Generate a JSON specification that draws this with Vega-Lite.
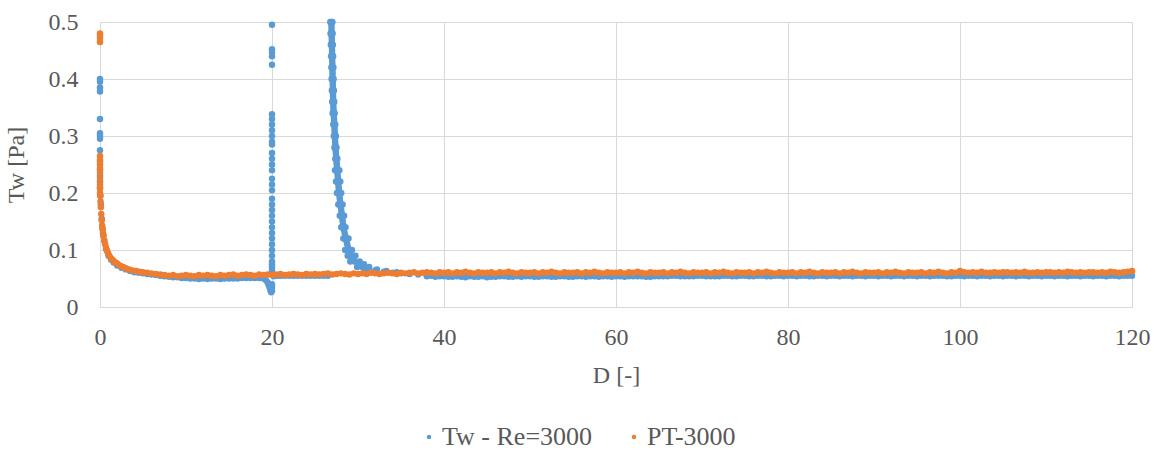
{
"$schema": "https://vega.github.io/schema/vega-lite/v6.json",
"width": 1032,
"height": 285,
"autosize": {"type": "none"},
"padding": {"left": 100, "top": 22, "right": 25, "bottom": 144},
"background": "white",
"config": {"view": {"stroke": null}, "font": "Liberation Serif"},
"data": {"values": [
{"s":"B","x":0,"y":0.40},{"s":"B","x":0,"y":0.395},{"s":"B","x":0,"y":0.385},{"s":"B","x":0,"y":0.378},{"s":"B","x":0,"y":0.33},{"s":"B","x":0,"y":0.305},{"s":"B","x":0,"y":0.30},{"s":"B","x":0,"y":0.295},{"s":"B","x":0,"y":0.275},{"s":"B","x":0,"y":0.255},{"s":"B","x":0,"y":0.24},{"s":"B","x":0,"y":0.23},{"s":"B","x":0,"y":0.22},{"s":"B","x":0,"y":0.21},
{"s":"B","x":0.05,"y":0.195},{"s":"B","x":0.1,"y":0.18},{"s":"B","x":0.2,"y":0.155},{"s":"B","x":0.3,"y":0.138},{"s":"B","x":0.4,"y":0.126},{"s":"B","x":0.5,"y":0.116},{"s":"B","x":0.7,"y":0.102},{"s":"B","x":1,"y":0.09},{"s":"B","x":1.3,"y":0.083},{"s":"B","x":1.6,"y":0.078},{"s":"B","x":2,"y":0.073},{"s":"B","x":2.5,"y":0.069},{"s":"B","x":3,"y":0.066},{"s":"B","x":3.5,"y":0.063},{"s":"B","x":4,"y":0.061},{"s":"B","x":4.5,"y":0.06},{"s":"B","x":5,"y":0.059},{"s":"B","x":5.5,"y":0.058},{"s":"B","x":6,"y":0.057},{"s":"B","x":6.5,"y":0.056},{"s":"B","x":7,"y":0.055},{"s":"B","x":7.5,"y":0.054},{"s":"B","x":8,"y":0.053},{"s":"B","x":8.5,"y":0.052},{"s":"B","x":9,"y":0.052},{"s":"B","x":9.5,"y":0.051},{"s":"B","x":10,"y":0.051},{"s":"B","x":10.5,"y":0.05},{"s":"B","x":11,"y":0.05},{"s":"B","x":11.5,"y":0.049},{"s":"B","x":12,"y":0.05},{"s":"B","x":12.5,"y":0.049},{"s":"B","x":13,"y":0.05},{"s":"B","x":13.5,"y":0.05},{"s":"B","x":14,"y":0.049},{"s":"B","x":14.5,"y":0.05},{"s":"B","x":15,"y":0.05},{"s":"B","x":15.5,"y":0.05},{"s":"B","x":16,"y":0.05},{"s":"B","x":16.5,"y":0.051},{"s":"B","x":17,"y":0.051},{"s":"B","x":17.5,"y":0.051},{"s":"B","x":18,"y":0.051},{"s":"B","x":18.5,"y":0.051},{"s":"B","x":19,"y":0.05},{"s":"B","x":19.3,"y":0.047},{"s":"B","x":19.5,"y":0.043},{"s":"B","x":19.6,"y":0.039},{"s":"B","x":19.7,"y":0.035},{"s":"B","x":19.8,"y":0.03},{"s":"B","x":19.9,"y":0.026},{"s":"B","x":20,"y":0.028},
{"s":"B","x":20,"y":0.495},{"s":"B","x":20,"y":0.452},{"s":"B","x":20,"y":0.447},{"s":"B","x":20,"y":0.44},{"s":"B","x":20,"y":0.425},{"s":"B","x":20,"y":0.338},{"s":"B","x":20,"y":0.33},{"s":"B","x":20,"y":0.32},{"s":"B","x":20,"y":0.31},{"s":"B","x":20,"y":0.30},{"s":"B","x":20,"y":0.29},{"s":"B","x":20,"y":0.285},{"s":"B","x":20,"y":0.27},{"s":"B","x":20,"y":0.26},{"s":"B","x":20,"y":0.25},{"s":"B","x":20,"y":0.24},{"s":"B","x":20,"y":0.225},{"s":"B","x":20,"y":0.215},{"s":"B","x":20,"y":0.205},{"s":"B","x":20,"y":0.19},{"s":"B","x":20,"y":0.18},{"s":"B","x":20,"y":0.17},{"s":"B","x":20,"y":0.16},{"s":"B","x":20,"y":0.15},{"s":"B","x":20,"y":0.14},{"s":"B","x":20,"y":0.13},{"s":"B","x":20,"y":0.12},{"s":"B","x":20,"y":0.11},{"s":"B","x":20,"y":0.1},{"s":"B","x":20,"y":0.09},{"s":"B","x":20,"y":0.08},{"s":"B","x":20,"y":0.075},{"s":"B","x":20,"y":0.07},{"s":"B","x":20,"y":0.065},{"s":"B","x":20,"y":0.06},{"s":"B","x":20,"y":0.04},{"s":"B","x":20,"y":0.035},
{"s":"B","x":20.2,"y":0.054},{"s":"B","x":20.6,"y":0.055},{"s":"B","x":21,"y":0.055},{"s":"B","x":21.5,"y":0.055},{"s":"B","x":22,"y":0.055},{"s":"B","x":22.5,"y":0.055},{"s":"B","x":23,"y":0.055},{"s":"B","x":23.5,"y":0.055},{"s":"B","x":24,"y":0.055},{"s":"B","x":24.5,"y":0.055},{"s":"B","x":25,"y":0.055},{"s":"B","x":25.5,"y":0.055},{"s":"B","x":26,"y":0.055},{"s":"B","x":26.5,"y":0.055},
{"s":"B","x":26.9,"y":0.5},{"s":"B","x":26.91,"y":0.495},{"s":"B","x":26.92,"y":0.49},{"s":"B","x":26.925,"y":0.485},{"s":"B","x":26.93,"y":0.48},{"s":"B","x":26.94,"y":0.475},{"s":"B","x":26.95,"y":0.47},{"s":"B","x":26.955,"y":0.465},{"s":"B","x":26.96,"y":0.46},{"s":"B","x":26.97,"y":0.455},{"s":"B","x":26.98,"y":0.45},{"s":"B","x":26.985,"y":0.445},{"s":"B","x":26.99,"y":0.44},{"s":"B","x":27.0,"y":0.435},{"s":"B","x":27.01,"y":0.43},{"s":"B","x":27.015,"y":0.425},{"s":"B","x":27.02,"y":0.42},{"s":"B","x":27.03,"y":0.415},{"s":"B","x":27.04,"y":0.41},{"s":"B","x":27.045,"y":0.405},{"s":"B","x":27.05,"y":0.40},{"s":"B","x":27.06,"y":0.395},{"s":"B","x":27.07,"y":0.39},{"s":"B","x":27.075,"y":0.385},{"s":"B","x":27.08,"y":0.38},{"s":"B","x":27.09,"y":0.375},{"s":"B","x":27.1,"y":0.37},{"s":"B","x":27.11,"y":0.365},{"s":"B","x":27.12,"y":0.36},{"s":"B","x":27.13,"y":0.355},{"s":"B","x":27.14,"y":0.35},{"s":"B","x":27.155,"y":0.345},{"s":"B","x":27.17,"y":0.34},{"s":"B","x":27.19,"y":0.335},{"s":"B","x":27.21,"y":0.33},{"s":"B","x":27.225,"y":0.325},{"s":"B","x":27.24,"y":0.32},{"s":"B","x":27.26,"y":0.315},{"s":"B","x":27.28,"y":0.31},{"s":"B","x":27.295,"y":0.305},{"s":"B","x":27.31,"y":0.30},{"s":"B","x":27.33,"y":0.295},{"s":"B","x":27.35,"y":0.29},{"s":"B","x":27.365,"y":0.285},{"s":"B","x":27.38,"y":0.28},{"s":"B","x":27.405,"y":0.275},{"s":"B","x":27.43,"y":0.27},{"s":"B","x":27.455,"y":0.265},{"s":"B","x":27.48,"y":0.26},{"s":"B","x":27.505,"y":0.255},{"s":"B","x":27.53,"y":0.25},{"s":"B","x":27.555,"y":0.245},{"s":"B","x":27.58,"y":0.24},{"s":"B","x":27.61,"y":0.235},{"s":"B","x":27.64,"y":0.23},{"s":"B","x":27.665,"y":0.225},{"s":"B","x":27.69,"y":0.22},{"s":"B","x":27.72,"y":0.215},{"s":"B","x":27.75,"y":0.21},{"s":"B","x":27.775,"y":0.205},{"s":"B","x":27.8,"y":0.2},{"s":"B","x":27.84,"y":0.195},{"s":"B","x":27.88,"y":0.19},{"s":"B","x":27.92,"y":0.185},{"s":"B","x":27.96,"y":0.18},{"s":"B","x":28.0,"y":0.175},{"s":"B","x":28.05,"y":0.17},{"s":"B","x":28.09,"y":0.165},{"s":"B","x":28.13,"y":0.16},{"s":"B","x":28.18,"y":0.155},{"s":"B","x":28.22,"y":0.15},{"s":"B","x":28.26,"y":0.145},{"s":"B","x":28.3,"y":0.14},{"s":"B","x":28.37,"y":0.135},{"s":"B","x":28.45,"y":0.13},{"s":"B","x":28.52,"y":0.125},{"s":"B","x":28.6,"y":0.12},{"s":"B","x":28.67,"y":0.115},{"s":"B","x":28.75,"y":0.11},{"s":"B","x":28.82,"y":0.105},{"s":"B","x":28.9,"y":0.1},{"s":"B","x":29.07,"y":0.095},{"s":"B","x":29.25,"y":0.09},{"s":"B","x":29.42,"y":0.085},{"s":"B","x":29.6,"y":0.08},{"s":"B","x":30,"y":0.075},{"s":"B","x":30.5,"y":0.07},{"s":"B","x":31.2,"y":0.067},{"s":"B","x":32,"y":0.064},{"s":"B","x":33,"y":0.062},{"s":"B","x":34,"y":0.06},{"s":"B","x":35,"y":0.059},{"s":"B","x":36,"y":0.058},{"s":"B","x":37,"y":0.057},
{"s":"B","x":26.78,"y":0.5},{"s":"B","x":26.81,"y":0.48},{"s":"B","x":26.84,"y":0.46},{"s":"B","x":26.87,"y":0.44},{"s":"B","x":26.9,"y":0.42},{"s":"B","x":26.93,"y":0.40},{"s":"B","x":26.96,"y":0.38},{"s":"B","x":27.0,"y":0.36},{"s":"B","x":27.05,"y":0.34},{"s":"B","x":27.12,"y":0.32},{"s":"B","x":27.19,"y":0.30},{"s":"B","x":27.26,"y":0.28},{"s":"B","x":27.36,"y":0.26},{"s":"B","x":27.33,"y":0.24},{"s":"B","x":27.44,"y":0.22},{"s":"B","x":27.55,"y":0.20},{"s":"B","x":27.71,"y":0.18},{"s":"B","x":27.88,"y":0.16},{"s":"B","x":28.05,"y":0.14},{"s":"B","x":28.3,"y":0.12},{"s":"B","x":28.5,"y":0.10},{"s":"B","x":28.8,"y":0.09},{"s":"B","x":29.1,"y":0.08},{"s":"B","x":29.9,"y":0.07},{"s":"B","x":30.8,"y":0.065},
{"s":"B","x":27.02,"y":0.5},{"s":"B","x":27.05,"y":0.48},{"s":"B","x":27.08,"y":0.46},{"s":"B","x":27.11,"y":0.44},{"s":"B","x":27.14,"y":0.42},{"s":"B","x":27.17,"y":0.40},{"s":"B","x":27.2,"y":0.38},{"s":"B","x":27.24,"y":0.36},{"s":"B","x":27.29,"y":0.34},{"s":"B","x":27.36,"y":0.32},{"s":"B","x":27.43,"y":0.30},{"s":"B","x":27.5,"y":0.28},{"s":"B","x":27.6,"y":0.26},{"s":"B","x":27.83,"y":0.24},{"s":"B","x":27.94,"y":0.22},{"s":"B","x":28.05,"y":0.20},{"s":"B","x":28.21,"y":0.18},{"s":"B","x":28.38,"y":0.16},{"s":"B","x":28.55,"y":0.14},{"s":"B","x":28.9,"y":0.12},{"s":"B","x":29.3,"y":0.10},{"s":"B","x":29.7,"y":0.09},{"s":"B","x":30.2,"y":0.08},{"s":"B","x":30.7,"y":0.075},{"s":"B","x":31.3,"y":0.07},{"s":"B","x":32.2,"y":0.066},{"s":"B","x":33.3,"y":0.063},{"s":"B","x":34.5,"y":0.061},{"s":"B","x":36,"y":0.059},
{"s":"B","x":38,"y":0.054},{"s":"B","x":38.5,"y":0.055},{"s":"B","x":39,"y":0.053},{"s":"B","x":39.5,"y":0.054},{"s":"B","x":40,"y":0.054},{"s":"B","x":40.5,"y":0.053},{"s":"B","x":41,"y":0.053},{"s":"B","x":41.5,"y":0.054},{"s":"B","x":42,"y":0.053},{"s":"B","x":42.5,"y":0.052},{"s":"B","x":43,"y":0.054},{"s":"B","x":43.5,"y":0.053},{"s":"B","x":44,"y":0.053},{"s":"B","x":44.5,"y":0.054},{"s":"B","x":45,"y":0.052},{"s":"B","x":45.5,"y":0.053},{"s":"B","x":46,"y":0.053},{"s":"B","x":46.5,"y":0.054},{"s":"B","x":47,"y":0.054},{"s":"B","x":47.5,"y":0.053},{"s":"B","x":48,"y":0.053},{"s":"B","x":48.5,"y":0.054},{"s":"B","x":49,"y":0.053},{"s":"B","x":49.5,"y":0.054},{"s":"B","x":50,"y":0.054},{"s":"B","x":50.5,"y":0.053},{"s":"B","x":51,"y":0.053},{"s":"B","x":51.5,"y":0.054},{"s":"B","x":52,"y":0.054},{"s":"B","x":52.5,"y":0.053},{"s":"B","x":53,"y":0.053},{"s":"B","x":53.5,"y":0.054},{"s":"B","x":54,"y":0.054},{"s":"B","x":54.5,"y":0.053},{"s":"B","x":55,"y":0.053},{"s":"B","x":55.5,"y":0.054},{"s":"B","x":56,"y":0.054},{"s":"B","x":56.5,"y":0.053},{"s":"B","x":57,"y":0.054},{"s":"B","x":57.5,"y":0.054},{"s":"B","x":58,"y":0.053},{"s":"B","x":58.5,"y":0.054},{"s":"B","x":59,"y":0.054},{"s":"B","x":59.5,"y":0.053},
{"s":"B","x":60,"y":0.054},{"s":"B","x":60.5,"y":0.054},{"s":"B","x":61,"y":0.053},{"s":"B","x":61.5,"y":0.054},{"s":"B","x":62,"y":0.054},{"s":"B","x":62.5,"y":0.054},{"s":"B","x":63,"y":0.054},{"s":"B","x":63.5,"y":0.053},{"s":"B","x":64,"y":0.053},{"s":"B","x":64.5,"y":0.054},{"s":"B","x":65,"y":0.054},{"s":"B","x":65.5,"y":0.054},{"s":"B","x":66,"y":0.054},{"s":"B","x":66.5,"y":0.055},{"s":"B","x":67,"y":0.055},{"s":"B","x":67.5,"y":0.054},{"s":"B","x":68,"y":0.054},{"s":"B","x":68.5,"y":0.054},{"s":"B","x":69,"y":0.054},{"s":"B","x":69.5,"y":0.055},{"s":"B","x":70,"y":0.055},{"s":"B","x":70.5,"y":0.054},{"s":"B","x":71,"y":0.054},{"s":"B","x":71.5,"y":0.054},{"s":"B","x":72,"y":0.054},{"s":"B","x":72.5,"y":0.055},{"s":"B","x":73,"y":0.055},{"s":"B","x":73.5,"y":0.054},{"s":"B","x":74,"y":0.054},{"s":"B","x":74.5,"y":0.055},{"s":"B","x":75,"y":0.055},{"s":"B","x":75.5,"y":0.054},{"s":"B","x":76,"y":0.054},{"s":"B","x":76.5,"y":0.055},{"s":"B","x":77,"y":0.055},{"s":"B","x":77.5,"y":0.054},{"s":"B","x":78,"y":0.054},{"s":"B","x":78.5,"y":0.055},{"s":"B","x":79,"y":0.055},{"s":"B","x":79.5,"y":0.054},
{"s":"B","x":80,"y":0.055},{"s":"B","x":80.5,"y":0.055},{"s":"B","x":81,"y":0.054},{"s":"B","x":81.5,"y":0.055},{"s":"B","x":82,"y":0.055},{"s":"B","x":82.5,"y":0.054},{"s":"B","x":83,"y":0.054},{"s":"B","x":83.5,"y":0.055},{"s":"B","x":84,"y":0.055},{"s":"B","x":84.5,"y":0.054},{"s":"B","x":85,"y":0.055},{"s":"B","x":85.5,"y":0.055},{"s":"B","x":86,"y":0.054},{"s":"B","x":86.5,"y":0.055},{"s":"B","x":87,"y":0.055},{"s":"B","x":87.5,"y":0.054},{"s":"B","x":88,"y":0.055},{"s":"B","x":88.5,"y":0.055},{"s":"B","x":89,"y":0.054},{"s":"B","x":89.5,"y":0.055},{"s":"B","x":90,"y":0.055},{"s":"B","x":90.5,"y":0.054},{"s":"B","x":91,"y":0.055},{"s":"B","x":91.5,"y":0.055},{"s":"B","x":92,"y":0.054},{"s":"B","x":92.5,"y":0.055},{"s":"B","x":93,"y":0.055},{"s":"B","x":93.5,"y":0.054},{"s":"B","x":94,"y":0.055},{"s":"B","x":94.5,"y":0.055},{"s":"B","x":95,"y":0.054},{"s":"B","x":95.5,"y":0.055},{"s":"B","x":96,"y":0.055},{"s":"B","x":96.5,"y":0.054},{"s":"B","x":97,"y":0.055},{"s":"B","x":97.5,"y":0.055},{"s":"B","x":98,"y":0.055},{"s":"B","x":98.5,"y":0.054},{"s":"B","x":99,"y":0.054},{"s":"B","x":99.5,"y":0.055},
{"s":"B","x":100,"y":0.055},{"s":"B","x":100.5,"y":0.054},{"s":"B","x":101,"y":0.055},{"s":"B","x":101.5,"y":0.055},{"s":"B","x":102,"y":0.054},{"s":"B","x":102.5,"y":0.055},{"s":"B","x":103,"y":0.055},{"s":"B","x":103.5,"y":0.054},{"s":"B","x":104,"y":0.055},{"s":"B","x":104.5,"y":0.055},{"s":"B","x":105,"y":0.054},{"s":"B","x":105.5,"y":0.055},{"s":"B","x":106,"y":0.055},{"s":"B","x":106.5,"y":0.054},{"s":"B","x":107,"y":0.055},{"s":"B","x":107.5,"y":0.055},{"s":"B","x":108,"y":0.054},{"s":"B","x":108.5,"y":0.055},{"s":"B","x":109,"y":0.055},{"s":"B","x":109.5,"y":0.054},{"s":"B","x":110,"y":0.055},{"s":"B","x":110.5,"y":0.055},{"s":"B","x":111,"y":0.054},{"s":"B","x":111.5,"y":0.055},{"s":"B","x":112,"y":0.055},{"s":"B","x":112.5,"y":0.054},{"s":"B","x":113,"y":0.055},{"s":"B","x":113.5,"y":0.055},{"s":"B","x":114,"y":0.054},{"s":"B","x":114.5,"y":0.055},{"s":"B","x":115,"y":0.055},{"s":"B","x":115.5,"y":0.054},{"s":"B","x":116,"y":0.055},{"s":"B","x":116.5,"y":0.055},{"s":"B","x":117,"y":0.054},{"s":"B","x":117.5,"y":0.055},{"s":"B","x":118,"y":0.055},{"s":"B","x":118.5,"y":0.054},{"s":"B","x":119,"y":0.055},{"s":"B","x":119.5,"y":0.055},{"s":"B","x":120,"y":0.055},
{"s":"O","x":0,"y":0.48},{"s":"O","x":0,"y":0.476},{"s":"O","x":0,"y":0.472},{"s":"O","x":0,"y":0.465},{"s":"O","x":0,"y":0.265},{"s":"O","x":0,"y":0.258},{"s":"O","x":0,"y":0.25},{"s":"O","x":0,"y":0.243},{"s":"O","x":0,"y":0.235},{"s":"O","x":0,"y":0.225},{"s":"O","x":0,"y":0.215},{"s":"O","x":0,"y":0.208},{"s":"O","x":0,"y":0.2},
{"s":"O","x":0.03,"y":0.195},{"s":"O","x":0.06,"y":0.185},{"s":"O","x":0.1,"y":0.175},{"s":"O","x":0.15,"y":0.163},{"s":"O","x":0.2,"y":0.152},{"s":"O","x":0.25,"y":0.143},{"s":"O","x":0.3,"y":0.136},{"s":"O","x":0.35,"y":0.13},{"s":"O","x":0.4,"y":0.125},{"s":"O","x":0.5,"y":0.117},{"s":"O","x":0.6,"y":0.11},{"s":"O","x":0.7,"y":0.104},{"s":"O","x":0.8,"y":0.099},{"s":"O","x":0.9,"y":0.095},{"s":"O","x":1.0,"y":0.092},{"s":"O","x":1.15,"y":0.088},{"s":"O","x":1.3,"y":0.085},{"s":"O","x":1.5,"y":0.082},{"s":"O","x":1.7,"y":0.079},{"s":"O","x":1.9,"y":0.077},{"s":"O","x":2.1,"y":0.075},{"s":"O","x":2.4,"y":0.072},{"s":"O","x":2.7,"y":0.07},{"s":"O","x":3.0,"y":0.068},{"s":"O","x":3.4,"y":0.066},{"s":"O","x":3.8,"y":0.064},{"s":"O","x":4.2,"y":0.063},{"s":"O","x":4.6,"y":0.062},{"s":"O","x":5.0,"y":0.061},{"s":"O","x":5.5,"y":0.06},{"s":"O","x":6,"y":0.059},{"s":"O","x":6.5,"y":0.058},{"s":"O","x":7,"y":0.057},{"s":"O","x":7.5,"y":0.056},
{"s":"O","x":8,"y":0.055},{"s":"O","x":8.5,"y":0.056},{"s":"O","x":9,"y":0.054},{"s":"O","x":9.5,"y":0.055},{"s":"O","x":10,"y":0.056},{"s":"O","x":10.5,"y":0.055},{"s":"O","x":11,"y":0.054},{"s":"O","x":11.5,"y":0.056},{"s":"O","x":12,"y":0.055},{"s":"O","x":12.5,"y":0.056},{"s":"O","x":13,"y":0.055},{"s":"O","x":13.5,"y":0.054},{"s":"O","x":14,"y":0.056},{"s":"O","x":14.5,"y":0.055},{"s":"O","x":15,"y":0.056},{"s":"O","x":15.5,"y":0.057},{"s":"O","x":16,"y":0.055},{"s":"O","x":16.5,"y":0.056},{"s":"O","x":17,"y":0.057},{"s":"O","x":17.5,"y":0.056},{"s":"O","x":18,"y":0.055},{"s":"O","x":18.5,"y":0.057},{"s":"O","x":19,"y":0.056},{"s":"O","x":19.5,"y":0.057},{"s":"O","x":20,"y":0.056},{"s":"O","x":20.5,"y":0.057},{"s":"O","x":21,"y":0.058},{"s":"O","x":21.5,"y":0.056},{"s":"O","x":22,"y":0.057},{"s":"O","x":22.5,"y":0.058},{"s":"O","x":23,"y":0.057},{"s":"O","x":23.5,"y":0.056},{"s":"O","x":24,"y":0.058},{"s":"O","x":24.5,"y":0.057},{"s":"O","x":25,"y":0.058},{"s":"O","x":25.5,"y":0.057},{"s":"O","x":26,"y":0.058},{"s":"O","x":26.5,"y":0.059},{"s":"O","x":27,"y":0.057},{"s":"O","x":27.5,"y":0.058},{"s":"O","x":28,"y":0.059},{"s":"O","x":28.5,"y":0.058},{"s":"O","x":29,"y":0.057},{"s":"O","x":29.5,"y":0.059},{"s":"O","x":30,"y":0.058},{"s":"O","x":30.5,"y":0.059},{"s":"O","x":31,"y":0.058},{"s":"O","x":31.5,"y":0.06},{"s":"O","x":32,"y":0.059},{"s":"O","x":32.5,"y":0.058},{"s":"O","x":33,"y":0.059},{"s":"O","x":33.5,"y":0.06},{"s":"O","x":34,"y":0.059},{"s":"O","x":34.5,"y":0.058},{"s":"O","x":35,"y":0.06},{"s":"O","x":35.5,"y":0.059},{"s":"O","x":36,"y":0.06},{"s":"O","x":36.5,"y":0.061},{"s":"O","x":37,"y":0.059},{"s":"O","x":37.5,"y":0.06},{"s":"O","x":38,"y":0.061},{"s":"O","x":38.5,"y":0.06},{"s":"O","x":39,"y":0.059},{"s":"O","x":39.5,"y":0.061},
{"s":"O","x":40,"y":0.06},{"s":"O","x":40.5,"y":0.061},{"s":"O","x":41,"y":0.059},{"s":"O","x":41.5,"y":0.061},{"s":"O","x":42,"y":0.06},{"s":"O","x":42.5,"y":0.062},{"s":"O","x":43,"y":0.06},{"s":"O","x":43.5,"y":0.059},{"s":"O","x":44,"y":0.061},{"s":"O","x":44.5,"y":0.06},{"s":"O","x":45,"y":0.06},{"s":"O","x":45.5,"y":0.061},{"s":"O","x":46,"y":0.059},{"s":"O","x":46.5,"y":0.061},{"s":"O","x":47,"y":0.06},{"s":"O","x":47.5,"y":0.062},{"s":"O","x":48,"y":0.06},{"s":"O","x":48.5,"y":0.059},{"s":"O","x":49,"y":0.061},{"s":"O","x":49.5,"y":0.06},
{"s":"O","x":50,"y":0.06},{"s":"O","x":50.5,"y":0.061},{"s":"O","x":51,"y":0.059},{"s":"O","x":51.5,"y":0.061},{"s":"O","x":52,"y":0.06},{"s":"O","x":52.5,"y":0.062},{"s":"O","x":53,"y":0.06},{"s":"O","x":53.5,"y":0.059},{"s":"O","x":54,"y":0.061},{"s":"O","x":54.5,"y":0.06},{"s":"O","x":55,"y":0.06},{"s":"O","x":55.5,"y":0.061},{"s":"O","x":56,"y":0.059},{"s":"O","x":56.5,"y":0.061},{"s":"O","x":57,"y":0.06},{"s":"O","x":57.5,"y":0.062},{"s":"O","x":58,"y":0.06},{"s":"O","x":58.5,"y":0.059},{"s":"O","x":59,"y":0.061},{"s":"O","x":59.5,"y":0.06},
{"s":"O","x":60,"y":0.06},{"s":"O","x":60.5,"y":0.061},{"s":"O","x":61,"y":0.059},{"s":"O","x":61.5,"y":0.061},{"s":"O","x":62,"y":0.06},{"s":"O","x":62.5,"y":0.062},{"s":"O","x":63,"y":0.06},{"s":"O","x":63.5,"y":0.059},{"s":"O","x":64,"y":0.061},{"s":"O","x":64.5,"y":0.06},{"s":"O","x":65,"y":0.06},{"s":"O","x":65.5,"y":0.061},{"s":"O","x":66,"y":0.059},{"s":"O","x":66.5,"y":0.061},{"s":"O","x":67,"y":0.06},{"s":"O","x":67.5,"y":0.062},{"s":"O","x":68,"y":0.06},{"s":"O","x":68.5,"y":0.059},{"s":"O","x":69,"y":0.061},{"s":"O","x":69.5,"y":0.06},
{"s":"O","x":70,"y":0.06},{"s":"O","x":70.5,"y":0.061},{"s":"O","x":71,"y":0.059},{"s":"O","x":71.5,"y":0.061},{"s":"O","x":72,"y":0.06},{"s":"O","x":72.5,"y":0.062},{"s":"O","x":73,"y":0.06},{"s":"O","x":73.5,"y":0.059},{"s":"O","x":74,"y":0.061},{"s":"O","x":74.5,"y":0.06},{"s":"O","x":75,"y":0.06},{"s":"O","x":75.5,"y":0.061},{"s":"O","x":76,"y":0.059},{"s":"O","x":76.5,"y":0.061},{"s":"O","x":77,"y":0.06},{"s":"O","x":77.5,"y":0.062},{"s":"O","x":78,"y":0.06},{"s":"O","x":78.5,"y":0.059},{"s":"O","x":79,"y":0.061},{"s":"O","x":79.5,"y":0.06},
{"s":"O","x":80,"y":0.06},{"s":"O","x":80.5,"y":0.061},{"s":"O","x":81,"y":0.059},{"s":"O","x":81.5,"y":0.061},{"s":"O","x":82,"y":0.06},{"s":"O","x":82.5,"y":0.062},{"s":"O","x":83,"y":0.06},{"s":"O","x":83.5,"y":0.059},{"s":"O","x":84,"y":0.061},{"s":"O","x":84.5,"y":0.06},{"s":"O","x":85,"y":0.06},{"s":"O","x":85.5,"y":0.061},{"s":"O","x":86,"y":0.059},{"s":"O","x":86.5,"y":0.061},{"s":"O","x":87,"y":0.06},{"s":"O","x":87.5,"y":0.062},{"s":"O","x":88,"y":0.06},{"s":"O","x":88.5,"y":0.059},{"s":"O","x":89,"y":0.061},{"s":"O","x":89.5,"y":0.06},
{"s":"O","x":90,"y":0.06},{"s":"O","x":90.5,"y":0.061},{"s":"O","x":91,"y":0.059},{"s":"O","x":91.5,"y":0.061},{"s":"O","x":92,"y":0.06},{"s":"O","x":92.5,"y":0.062},{"s":"O","x":93,"y":0.06},{"s":"O","x":93.5,"y":0.059},{"s":"O","x":94,"y":0.061},{"s":"O","x":94.5,"y":0.06},{"s":"O","x":95,"y":0.06},{"s":"O","x":95.5,"y":0.061},{"s":"O","x":96,"y":0.059},{"s":"O","x":96.5,"y":0.061},{"s":"O","x":97,"y":0.06},{"s":"O","x":97.5,"y":0.062},{"s":"O","x":98,"y":0.06},{"s":"O","x":98.5,"y":0.059},{"s":"O","x":99,"y":0.061},{"s":"O","x":99.5,"y":0.06},
{"s":"O","x":100,"y":0.063},{"s":"O","x":100.5,"y":0.061},{"s":"O","x":101,"y":0.06},{"s":"O","x":101.5,"y":0.061},{"s":"O","x":102,"y":0.06},{"s":"O","x":102.5,"y":0.062},{"s":"O","x":103,"y":0.06},{"s":"O","x":103.5,"y":0.06},{"s":"O","x":104,"y":0.061},{"s":"O","x":104.5,"y":0.06},{"s":"O","x":105,"y":0.061},{"s":"O","x":105.5,"y":0.061},{"s":"O","x":106,"y":0.06},{"s":"O","x":106.5,"y":0.061},{"s":"O","x":107,"y":0.06},{"s":"O","x":107.5,"y":0.062},{"s":"O","x":108,"y":0.06},{"s":"O","x":108.5,"y":0.06},{"s":"O","x":109,"y":0.061},{"s":"O","x":109.5,"y":0.06},
{"s":"O","x":110,"y":0.061},{"s":"O","x":110.5,"y":0.061},{"s":"O","x":111,"y":0.06},{"s":"O","x":111.5,"y":0.061},{"s":"O","x":112,"y":0.06},{"s":"O","x":112.5,"y":0.062},{"s":"O","x":113,"y":0.061},{"s":"O","x":113.5,"y":0.06},{"s":"O","x":114,"y":0.061},{"s":"O","x":114.5,"y":0.06},{"s":"O","x":115,"y":0.061},{"s":"O","x":115.5,"y":0.061},{"s":"O","x":116,"y":0.06},{"s":"O","x":116.5,"y":0.061},{"s":"O","x":117,"y":0.06},{"s":"O","x":117.5,"y":0.062},{"s":"O","x":118,"y":0.061},{"s":"O","x":118.5,"y":0.06},{"s":"O","x":119,"y":0.061},{"s":"O","x":119.5,"y":0.062},{"s":"O","x":120,"y":0.063}
]},
"mark": {"type": "point", "filled": true, "opacity": 1, "size": 42, "shape": "circle"},
"encoding": {
  "x": {"field": "x", "type": "quantitative", "title": "D [-]",
        "scale": {"domain": [0, 120], "nice": false, "zero": false},
        "axis": {"values": [0, 20, 40, 60, 80, 100, 120], "format": "d", "grid": true, "gridColor": "#d9d9d9", "gridWidth": 1,
                 "domain": true, "domainColor": "#d9d9d9", "ticks": false, "labelPadding": 18, "labelFlush": false,
                 "labelFont": "Liberation Serif", "labelFontSize": 24, "labelColor": "#595959",
                 "titleFont": "Liberation Serif", "titleFontSize": 24, "titleFontWeight": "normal", "titleColor": "#595959", "titlePadding": 14}},
  "y": {"field": "y", "type": "quantitative", "title": "Tw [Pa]",
        "scale": {"domain": [0, 0.5], "nice": false},
        "axis": {"values": [0, 0.1, 0.2, 0.3, 0.4, 0.5], "format": "~g", "grid": true, "gridColor": "#d9d9d9", "gridWidth": 1,
                 "domain": false, "ticks": false, "labelPadding": 22, "labelFlush": false,
                 "labelFont": "Liberation Serif", "labelFontSize": 24, "labelColor": "#595959",
                 "titleFont": "Liberation Serif", "titleFontSize": 24, "titleFontWeight": "normal", "titleColor": "#595959", "titlePadding": 20}},
  "color": {"field": "s", "type": "nominal",
            "scale": {"domain": ["B", "O"], "range": ["#5B9BD5", "#ED7D31"]},
            "legend": {"title": null, "orient": "none", "legendX": 316, "legendY": 402, "direction": "horizontal",
                       "labelExpr": "datum.label == 'B' ? 'Tw - Re=3000' : 'PT-3000'",
                       "labelFont": "Liberation Serif", "labelFontSize": 26, "labelColor": "#595959",
                       "symbolType": "circle", "symbolSize": 20, "symbolStrokeWidth": 0, "columnPadding": 28, "labelOffset": 0}}
}
}
